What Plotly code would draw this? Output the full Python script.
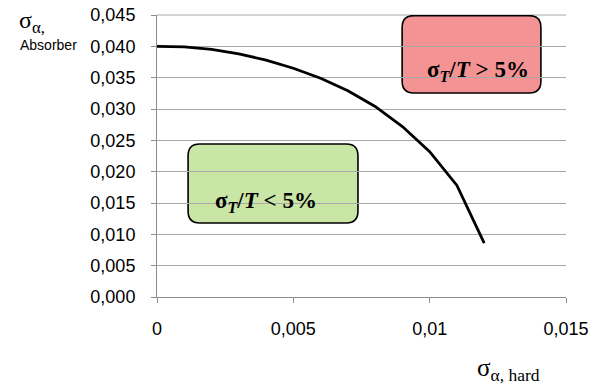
import plotly.graph_objects as go

sigma_hard = [0.000, 0.001, 0.002, 0.003, 0.004, 0.005, 0.006, 0.007, 0.008, 0.009, 0.010, 0.011, 0.012]
sigma_absorber = [0.0400, 0.0399, 0.0395, 0.0388, 0.0378, 0.0365, 0.0349, 0.0329, 0.0304, 0.0272, 0.0232, 0.0178, 0.0086]

x_tickvals = [0, 0.005, 0.01, 0.015]
x_ticktext = ["0", "0,005", "0,01", "0,015"]
y_tickvals = [0, 0.005, 0.010, 0.015, 0.020, 0.025, 0.030, 0.035, 0.040, 0.045]
y_ticktext = ["0,000", "0,005", "0,010", "0,015", "0,020", "0,025", "0,030", "0,035", "0,040", "0,045"]

OFF = 8  # default page body margin
W, H = 606 - OFF, 388 - OFF
L, R, T, B = 157 - OFF, 40, 15 - OFF, 91
PW, PH = W - L - R, H - T - B
GRID = "#a8a8a8"


def px_x(p):
    return (p - OFF - L) / PW


def px_y(p):
    return (H - B - (p - OFF)) / PH


fig = go.Figure()
fig.add_trace(go.Scatter(x=sigma_hard, y=sigma_absorber, mode="lines",
                         line=dict(color="black", width=2.8), showlegend=False,
                         hoverinfo="skip"))


def rounded(x0, x1, y0, y1, rx, ry):
    return (f"M {x0+rx},{y0} L {x1-rx},{y0} Q {x1},{y0} {x1},{y0+ry} "
            f"L {x1},{y1-ry} Q {x1},{y1} {x1-rx},{y1} L {x0+rx},{y1} "
            f"Q {x0},{y1} {x0},{y1-ry} L {x0},{y0+ry} Q {x0},{y0} {x0+rx},{y0} Z")


# top gridline at the top edge of the plot (range top = 0.045)
fig.add_shape(type="line", xref="paper", yref="paper", x0=0, x1=1, y0=1, y1=1,
              line=dict(color=GRID, width=1), layer="below")

rx, ry = 0.00042, 0.0019
fig.add_shape(type="path", path=rounded(0.00114, 0.00737, 0.01181, 0.02442, rx, ry),
              xref="x", yref="y", fillcolor="rgba(192,226,150,0.85)",
              line=dict(color="black", width=1.6), layer="below")
fig.add_shape(type="path", path=rounded(0.00899, 0.01408, 0.03255, 0.0449, rx, ry),
              xref="x", yref="y", fillcolor="rgba(242,128,128,0.85)",
              line=dict(color="black", width=1.6), layer="below")

fig.add_annotation(x=0.0040, y=0.0152, xref="x", yref="y", showarrow=False,
                   text="<b>σ<sub><i>T</i></sub>/<i>T</i> &lt; 5%</b>",
                   font=dict(family="Liberation Serif", size=23, color="black"))
fig.add_annotation(x=0.01176, y=0.0361, xref="x", yref="y", showarrow=False,
                   text="<b>σ<sub><i>T</i></sub>/<i>T</i> &gt; 5%</b>",
                   font=dict(family="Liberation Serif", size=23, color="black"))

# axis titles
fig.add_annotation(x=px_x(17), y=px_y(22), xref="paper", yref="paper",
                   showarrow=False, xanchor="left", yanchor="middle",
                   text="σ<sub>α,</sub>",
                   font=dict(family="Liberation Serif", size=24, color="black"))
fig.add_annotation(x=px_x(18), y=px_y(45), xref="paper", yref="paper",
                   showarrow=False, xanchor="left", yanchor="middle", text="Absorber",
                   font=dict(family="Liberation Sans", size=14, color="black"))
fig.add_annotation(x=px_x(475), y=px_y(370), xref="paper", yref="paper",
                   showarrow=False, xanchor="left", yanchor="middle",
                   text="σ<sub>α, hard</sub>",
                   font=dict(family="Liberation Serif", size=25, color="black"))

fig.update_xaxes(range=[0, 0.015], tickvals=x_tickvals, ticktext=x_ticktext,
                 showgrid=False, showline=True, linecolor="#8c8c8c", linewidth=1,
                 ticks="outside", ticklen=5, tickcolor="#8c8c8c",
                 ticklabelstandoff=10, automargin=False, ticklabeloverflow="allow",
                 tickfont=dict(family="Liberation Sans", size=18, color="black"),
                 zeroline=False)
fig.update_yaxes(range=[0, 0.045], tickvals=y_tickvals, ticktext=y_ticktext,
                 showgrid=True, gridcolor=GRID, gridwidth=1,
                 showline=True, linecolor="#8c8c8c", linewidth=1,
                 ticks="outside", ticklen=5, tickcolor="#8c8c8c",
                 ticklabelstandoff=12, automargin=False, ticklabeloverflow="allow",
                 tickfont=dict(family="Liberation Sans", size=18, color="black"),
                 zeroline=False)

fig.update_layout(width=W, height=H,
                  margin=dict(l=L, r=R, t=T, b=B, autoexpand=False),
                  plot_bgcolor="white", paper_bgcolor="white")

fig.write_html("out.html")
